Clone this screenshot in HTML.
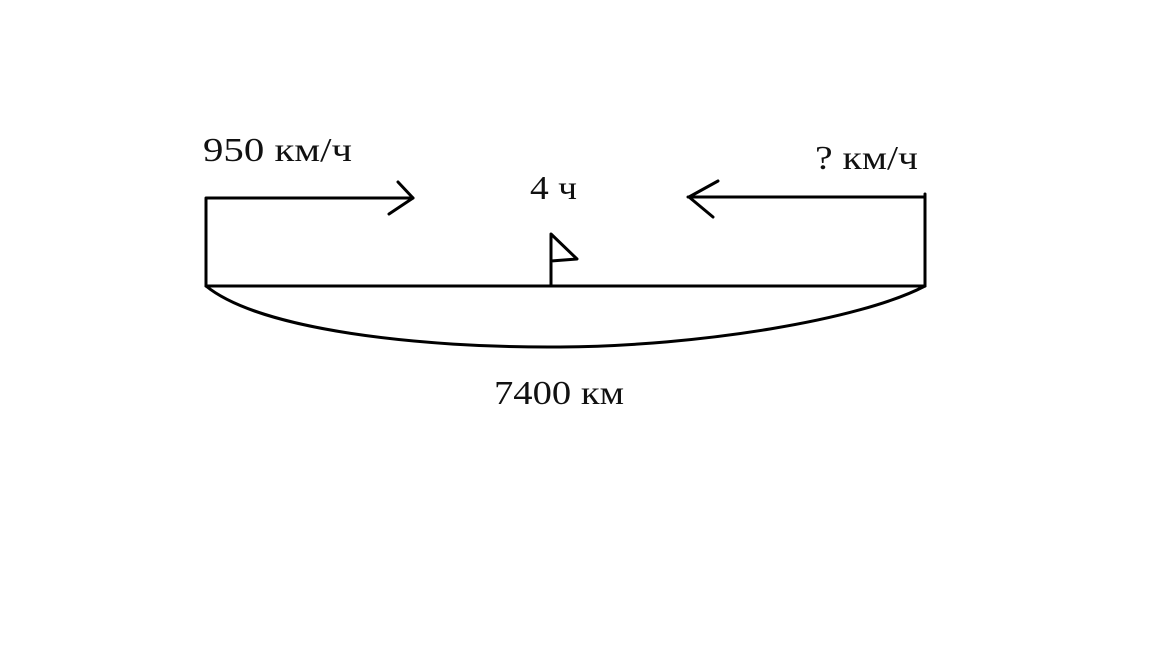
<!DOCTYPE html>
<html><head><meta charset="utf-8"><style>
body{margin:0;background:#fff;}
svg text{font-family:"Liberation Serif","DejaVu Serif",serif;font-size:34px;fill:#111;}
</style></head><body>
<svg width="1152" height="648" viewBox="0 0 1152 648" xmlns="http://www.w3.org/2000/svg">
<g stroke="#000" stroke-width="3" fill="none" stroke-linecap="round" stroke-linejoin="round">
<path d="M206 286 V198 H413"/>
<path d="M398 182 L413 198 L389 214"/>
<path d="M925 286 V194"/>
<path d="M925 197 H688"/>
<path d="M718 181 L689 197 L713 217"/>
<path d="M206 286 H925"/>
<path d="M206 286 C260 330 420 348 560 347 C700 346 860 320 925 286"/>
<path d="M551 286 V234 L577 259 L551 261"/>
</g>
<text x="203" y="161" textLength="149" lengthAdjust="spacingAndGlyphs">950 км/ч</text>
<text x="530" y="199" textLength="47" lengthAdjust="spacingAndGlyphs">4 ч</text>
<text x="815" y="169" textLength="103" lengthAdjust="spacingAndGlyphs">? км/ч</text>
<text x="494" y="404" textLength="130" lengthAdjust="spacingAndGlyphs">7400 км</text>
</svg>
</body></html>
